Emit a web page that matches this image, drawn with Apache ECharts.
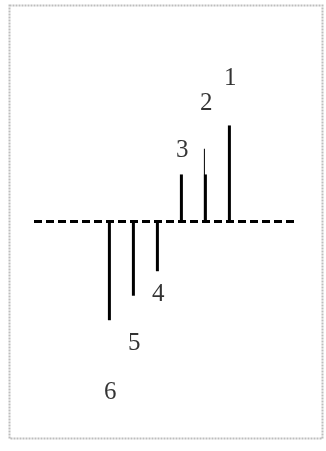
<!DOCTYPE html>
<html>
<head>
<meta charset="utf-8">
<script src="https://cdn.jsdelivr.net/npm/echarts@6/dist/echarts.min.js"></script>
<style>
  html, body { margin: 0; padding: 0; background: #fff; }
  #main { width: 326px; height: 451px; }
</style>
</head>
<body>
<div id="main"></div>
<script>
// bar names, their positions along the line and their heights
var names = ['6', '5', '4', '3', '2', '1'];
var positions = [3, 4, 5, 6, 7, 8];
var thickValues = [-4.05, -3.05, -2.05, 1.9, 1.9, 3.9];
// bar 2 carries a thin line above its thick part
var thinValues = [null, null, null, null, 2.95, null];
// where the number labels sit
var labelY = [-7.0, -5.0, -3.0, 2.88, 4.8, 5.8];

var chart = echarts.init(document.getElementById('main'));

var option = {
    animation: false,
    backgroundColor: '#fff',
    graphic: [{
        type: 'rect',
        shape: { x: 9.5, y: 5.5, width: 313, height: 433 },
        style: { fill: 'none', stroke: '#bdbdbd', lineWidth: 2, lineDash: [2, 1] }
    }],
    grid: { left: 34, top: 0.5, width: 261.6, height: 441 },
    xAxis: {
        type: 'value',
        min: -0.1,
        max: 10.8,
        axisLine: {
            onZero: true,
            lineStyle: { color: '#000', width: 3, type: [8, 4], cap: 'butt' }
        },
        axisTick: { show: false },
        axisLabel: { show: false },
        splitLine: { show: false }
    },
    yAxis: {
        type: 'value',
        min: -9,
        max: 9,
        show: false
    },
    series: [
        {
            type: 'bar',
            barWidth: 3,
            itemStyle: { color: '#000' },
            data: positions.map(function (x, i) { return [x, thickValues[i]]; }),
            z: 3
        },
        {
            type: 'bar',
            barWidth: 1,
            barGap: '-100%',
            itemStyle: { color: '#000' },
            data: positions.map(function (x, i) { return [x, thinValues[i]]; }),
            z: 2
        },
        {
            type: 'scatter',
            symbolSize: 0,
            data: positions.map(function (x, i) {
                return { name: names[i], value: [x + 0.08, labelY[i]] };
            }),
            label: {
                show: true,
                position: 'inside',
                formatter: '{b}',
                fontFamily: '"Liberation Serif", "Times New Roman", serif',
                fontSize: 25,
                color: '#000'
            }
        }
    ]
};

chart.setOption(option);
</script>
</body>
</html>
